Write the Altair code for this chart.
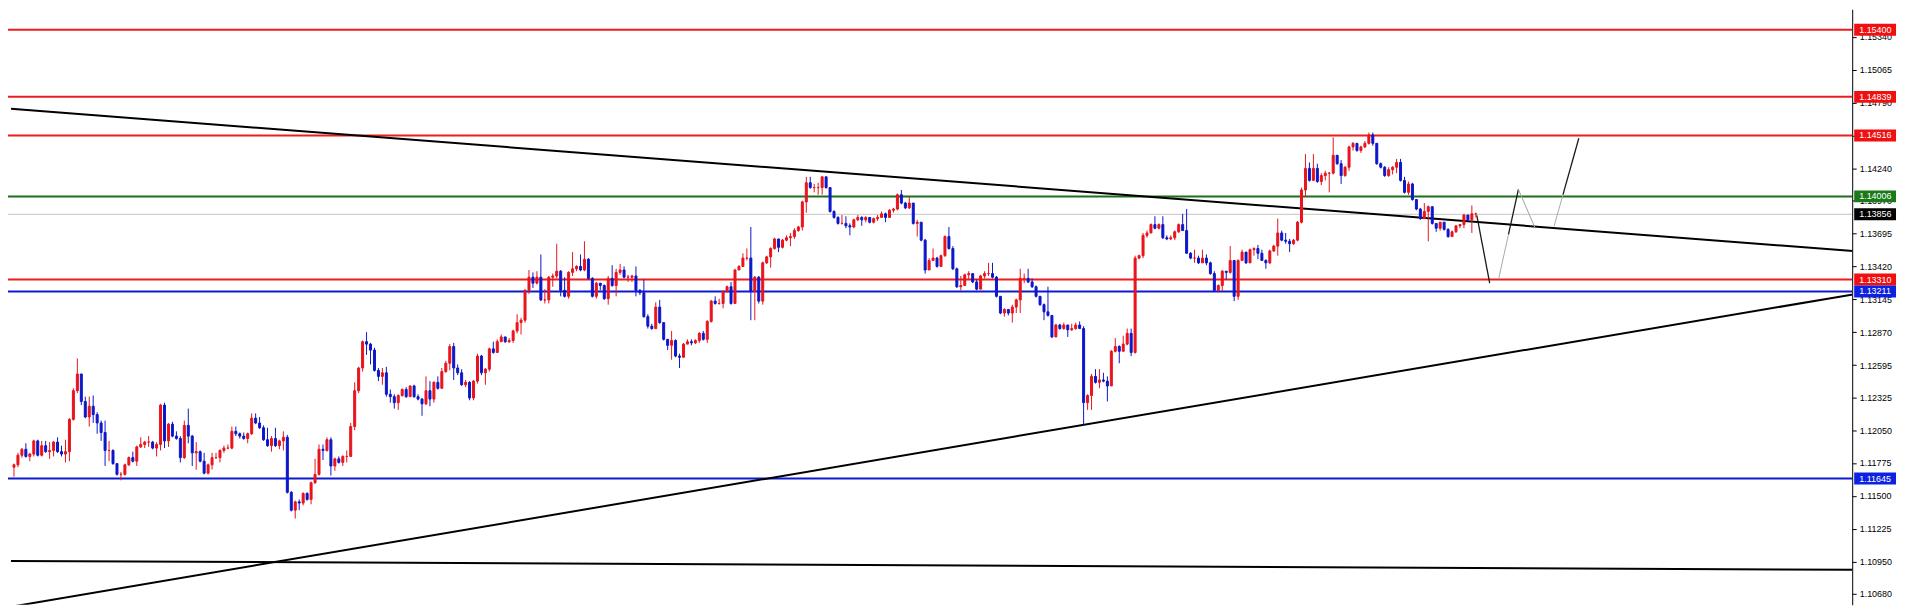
import altair as alt
import pandas as pd

# ---------------- data ----------------
first_open = 1.1174

closes = [
 1.1176,1.1184,1.1189,1.1183,1.1185,1.1196,1.1184,1.1192,1.1187,1.1188,
 1.1195,1.1187,1.1185,1.1187,1.1214,1.1238,1.1252,1.1229,1.1216,1.1225,
 1.1218,1.1211,1.1203,1.1188,1.1188,1.1177,1.1168,1.1168,1.1176,1.1182,
 1.1179,1.1191,1.1193,1.1195,1.1195,1.1190,1.1193,1.1226,1.1196,1.1210,
 1.1200,1.1198,1.1182,1.1209,1.1200,1.1186,1.1187,1.1179,1.1169,1.1176,
 1.1182,1.1182,1.1188,1.1190,1.1190,1.1204,1.1202,1.1200,1.1198,1.1202,
 1.1215,1.1211,1.1207,1.1197,1.1192,1.1198,1.1192,1.1196,1.1199,1.1153,
 1.1138,1.1145,1.1144,1.1152,1.1147,1.1161,1.1168,1.1189,1.1188,1.1197,
 1.1175,1.1181,1.1178,1.1183,1.1183,1.1208,1.1238,1.1257,1.1279,1.1277,
 1.1272,1.1255,1.1250,1.1253,1.1235,1.1233,1.1228,1.1234,1.1239,1.1233,
 1.1242,1.1233,1.1231,1.1227,1.1238,1.1231,1.1245,1.1240,1.1254,1.1261,
 1.1275,1.1257,1.1253,1.1243,1.1245,1.1232,1.1246,1.1267,1.1253,1.1256,
 1.1273,1.1270,1.1279,1.1283,1.1279,1.1280,1.1288,1.1295,1.1297,1.1322,
 1.1333,1.1328,1.1333,1.1314,1.1314,1.1333,1.1334,1.1338,1.1322,1.1317,
 1.1337,1.1340,1.1342,1.1339,1.1348,1.1332,1.1317,1.1328,1.1326,1.1315,
 1.1332,1.1326,1.1337,1.1339,1.1333,1.1333,1.1334,1.1322,1.1320,1.1300,
 1.1292,1.1290,1.1308,1.1295,1.1281,1.1276,1.1280,1.1267,1.1266,1.1277,
 1.1279,1.1278,1.1280,1.1286,1.1281,1.1296,1.1313,1.1311,1.1311,1.1321,
 1.1325,1.1311,1.1339,1.1342,1.1349,1.1349,1.1321,1.1333,1.1313,1.1345,
 1.1350,1.1357,1.1365,1.1358,1.1364,1.1366,1.1367,1.1372,1.1375,1.1396,
 1.1412,1.1408,1.1408,1.1408,1.1417,1.1408,1.1388,1.1383,1.1378,1.1378,
 1.1376,1.1375,1.1381,1.1383,1.1381,1.1383,1.1379,1.1382,1.1383,1.1386,
 1.1383,1.1389,1.1390,1.1402,1.1395,1.1391,1.1395,1.1378,1.1379,1.1364,
 1.1339,1.1347,1.1349,1.1342,1.1351,1.1367,1.1357,1.1340,1.1325,1.1326,
 1.1335,1.1336,1.1329,1.1323,1.1334,1.1336,1.1336,1.1333,1.1317,1.1303,
 1.1306,1.1303,1.1308,1.1314,1.1332,1.1332,1.1329,1.1325,1.1317,1.1310,
 1.1304,1.1301,1.1283,1.1293,1.1290,1.1293,1.1289,1.1290,1.1293,1.1290,
 1.1228,1.1234,1.1250,1.1245,1.1247,1.1246,1.1242,1.1271,1.1275,1.1271,
 1.1277,1.1286,1.1270,1.1349,1.1351,1.1368,1.1370,1.1377,1.1374,1.1377,
 1.1366,1.1365,1.1366,1.1371,1.1377,1.1372,1.1353,1.1349,1.1349,1.1345,
 1.1349,1.1345,1.1336,1.1322,1.1326,1.1338,1.1337,1.1347,1.1317,1.1347,
 1.1354,1.1345,1.1356,1.1357,1.1353,1.1347,1.1345,1.1355,1.1359,1.1370,
 1.1364,1.1363,1.1361,1.1364,1.1379,1.1406,1.1424,1.1414,1.1424,1.1413,
 1.1418,1.1420,1.1420,1.1435,1.1428,1.1418,1.1425,1.1442,1.1445,1.1439,
 1.1442,1.1445,1.1452,1.1445,1.1428,1.1425,1.1418,1.1423,1.1425,1.1429,
 1.1414,1.1404,1.1411,1.1398,1.1390,1.1382,1.1388,1.1392,1.1378,1.1374,
 1.1379,1.1373,1.1367,1.1371,1.1376,1.1377,1.1385,1.1381,1.1386,1.1386,
]

highs = [
 1.1177,1.1186,1.1190,1.1194,1.1186,1.1197,1.1197,1.1196,1.1196,1.1195,
 1.1196,1.1199,1.1192,1.1197,1.1215,1.1240,1.1265,1.1252,1.1233,1.1233,
 1.1234,1.1220,1.1213,1.1213,1.1196,1.1189,1.1177,1.1170,1.1177,1.1183,
 1.1187,1.1192,1.1199,1.1196,1.1200,1.1196,1.1195,1.1227,1.1228,1.1211,
 1.1212,1.1204,1.1200,1.1213,1.1223,1.1201,1.1195,1.1188,1.1186,1.1177,
 1.1186,1.1186,1.1189,1.1192,1.1193,1.1208,1.1208,1.1203,1.1203,1.1203,
 1.1219,1.1219,1.1216,1.1209,1.1207,1.1200,1.1207,1.1197,1.1204,1.1201,
 1.1154,1.1146,1.1147,1.1153,1.1153,1.1162,1.1181,1.1193,1.1193,1.1199,
 1.1199,1.1182,1.1183,1.1184,1.1188,1.1211,1.1245,1.1258,1.1280,1.1287,
 1.1278,1.1274,1.1257,1.1257,1.1258,1.1239,1.1235,1.1235,1.1240,1.1241,
 1.1242,1.1243,1.1235,1.1232,1.1250,1.1246,1.1246,1.1250,1.1257,1.1263,
 1.1277,1.1278,1.1260,1.1256,1.1247,1.1246,1.1247,1.1269,1.1268,1.1257,
 1.1274,1.1279,1.1281,1.1285,1.1283,1.1282,1.1289,1.1302,1.1299,1.1323,
 1.1339,1.1337,1.1338,1.1352,1.1323,1.1334,1.1336,1.1361,1.1339,1.1333,
 1.1338,1.1354,1.1343,1.1352,1.1363,1.1349,1.1333,1.1329,1.1328,1.1327,
 1.1334,1.1343,1.1340,1.1344,1.1342,1.1335,1.1335,1.1342,1.1323,1.1331,
 1.1302,1.1294,1.1312,1.1314,1.1295,1.1281,1.1288,1.1281,1.1269,1.1278,
 1.1281,1.1281,1.1281,1.1287,1.1288,1.1297,1.1314,1.1317,1.1315,1.1322,
 1.1326,1.1329,1.1340,1.1343,1.1353,1.1357,1.1375,1.1334,1.1334,1.1346,
 1.1351,1.1358,1.1366,1.1365,1.1365,1.1368,1.1370,1.1374,1.1376,1.1397,
 1.1417,1.1417,1.1411,1.1412,1.1417,1.1417,1.1408,1.1389,1.1384,1.1385,
 1.1384,1.1378,1.1382,1.1385,1.1384,1.1384,1.1383,1.1383,1.1385,1.1388,
 1.1387,1.1390,1.1391,1.1403,1.1406,1.1396,1.1400,1.1393,1.1381,1.1378,
 1.1365,1.1349,1.1357,1.1350,1.1352,1.1368,1.1375,1.1359,1.1341,1.1334,
 1.1336,1.1338,1.1336,1.1331,1.1335,1.1338,1.1345,1.1345,1.1334,1.1317,
 1.1307,1.1306,1.1310,1.1315,1.1340,1.1336,1.1340,1.1332,1.1326,1.1317,
 1.1311,1.1325,1.1301,1.1294,1.1294,1.1295,1.1293,1.1294,1.1295,1.1296,
 1.1292,1.1235,1.1252,1.1256,1.1256,1.1253,1.1250,1.1272,1.1282,1.1276,
 1.1284,1.1290,1.1290,1.1351,1.1352,1.1370,1.1372,1.1378,1.1384,1.1378,
 1.1384,1.1368,1.1368,1.1372,1.1378,1.1386,1.1390,1.1354,1.1356,1.1351,
 1.1356,1.1352,1.1346,1.1338,1.1327,1.1339,1.1338,1.1359,1.1347,1.1348,
 1.1356,1.1353,1.1357,1.1358,1.1360,1.1356,1.1348,1.1356,1.1360,1.1382,
 1.1372,1.1370,1.1365,1.1365,1.1380,1.1408,1.1436,1.1429,1.1436,1.1428,
 1.1420,1.1422,1.1421,1.1450,1.1435,1.1431,1.1426,1.1443,1.1446,1.1445,
 1.1443,1.1447,1.1454,1.1454,1.1445,1.1429,1.1426,1.1425,1.1426,1.1432,
 1.1432,1.1417,1.1413,1.1412,1.1398,1.1391,1.1395,1.1393,1.1392,1.1377,
 1.1379,1.1379,1.1374,1.1372,1.1376,1.1377,1.1386,1.1385,1.1393,1.1387,
]

lows = [
 1.1166,1.1174,1.1182,1.1182,1.1179,1.1183,1.1183,1.1183,1.1186,1.1181,
 1.1183,1.1186,1.1183,1.1178,1.1179,1.1213,1.1236,1.1226,1.1215,1.1208,
 1.1211,1.1202,1.1196,1.1175,1.1179,1.1176,1.1167,1.1163,1.1167,1.1175,
 1.1178,1.1175,1.1190,1.1190,1.1191,1.1189,1.1183,1.1188,1.1190,1.1191,
 1.1199,1.1197,1.1178,1.1181,1.1194,1.1175,1.1172,1.1178,1.1168,1.1168,
 1.1172,1.1181,1.1178,1.1186,1.1189,1.1189,1.1200,1.1198,1.1197,1.1194,
 1.1201,1.1210,1.1206,1.1196,1.1191,1.1187,1.1191,1.1189,1.1188,1.1152,
 1.1137,1.1131,1.1138,1.1142,1.1146,1.1143,1.1160,1.1167,1.1180,1.1187,
 1.1167,1.1171,1.1177,1.1175,1.1178,1.1183,1.1205,1.1236,1.1254,1.1268,
 1.1260,1.1254,1.1246,1.1243,1.1233,1.1228,1.1223,1.1222,1.1233,1.1232,
 1.1233,1.1232,1.1230,1.1217,1.1226,1.1225,1.1228,1.1239,1.1240,1.1253,
 1.1255,1.1247,1.1251,1.1242,1.1241,1.1230,1.1230,1.1244,1.1251,1.1243,
 1.1254,1.1269,1.1270,1.1279,1.1278,1.1278,1.1278,1.1286,1.1285,1.1295,
 1.1319,1.1324,1.1327,1.1313,1.1311,1.1311,1.1325,1.1332,1.1317,1.1316,
 1.1315,1.1334,1.1338,1.1338,1.1338,1.1331,1.1316,1.1315,1.1322,1.1314,
 1.1310,1.1325,1.1317,1.1335,1.1332,1.1329,1.1329,1.1317,1.1318,1.1299,
 1.1290,1.1289,1.1290,1.1294,1.1280,1.1272,1.1264,1.1266,1.1257,1.1266,
 1.1277,1.1276,1.1277,1.1278,1.1280,1.1278,1.1295,1.1310,1.1310,1.1307,
 1.1320,1.1310,1.1311,1.1339,1.1342,1.1347,1.1297,1.1297,1.1311,1.1310,
 1.1344,1.1341,1.1356,1.1354,1.1357,1.1363,1.1359,1.1365,1.1371,1.1372,
 1.1387,1.1407,1.1404,1.1402,1.1402,1.1407,1.1387,1.1382,1.1377,1.1377,
 1.1374,1.1368,1.1374,1.1380,1.1376,1.1379,1.1378,1.1378,1.1380,1.1383,
 1.1379,1.1383,1.1387,1.1389,1.1394,1.1390,1.1390,1.1377,1.1367,1.1363,
 1.1336,1.1339,1.1347,1.1341,1.1343,1.1350,1.1356,1.1339,1.1324,1.1322,
 1.1326,1.1331,1.1328,1.1322,1.1323,1.1332,1.1334,1.1332,1.1316,1.1302,
 1.1300,1.1301,1.1295,1.1303,1.1303,1.1328,1.1328,1.1324,1.1316,1.1309,
 1.1297,1.1300,1.1282,1.1283,1.1289,1.1289,1.1283,1.1288,1.1289,1.1290,
 1.1209,1.1222,1.1222,1.1244,1.1240,1.1245,1.1229,1.1242,1.1270,1.1261,
 1.1271,1.1276,1.1267,1.1269,1.1348,1.1349,1.1366,1.1370,1.1373,1.1373,
 1.1365,1.1364,1.1364,1.1364,1.1370,1.1372,1.1353,1.1348,1.1345,1.1344,
 1.1345,1.1343,1.1335,1.1321,1.1321,1.1321,1.1331,1.1336,1.1313,1.1314,
 1.1347,1.1344,1.1345,1.1351,1.1348,1.1347,1.1340,1.1344,1.1354,1.1351,
 1.1363,1.1361,1.1354,1.1360,1.1363,1.1378,1.1400,1.1413,1.1414,1.1412,
 1.1410,1.1414,1.1404,1.1419,1.1427,1.1411,1.1417,1.1422,1.1439,1.1438,
 1.1437,1.1441,1.1444,1.1443,1.1427,1.1424,1.1417,1.1417,1.1419,1.1420,
 1.1413,1.1403,1.1402,1.1397,1.1389,1.1381,1.1382,1.1363,1.1377,1.1371,
 1.1372,1.1372,1.1366,1.1367,1.1370,1.1374,1.1374,1.1380,1.1370,1.1383,
]

# horizontal price levels and their right-hand labels
level_prices = [1.15400, 1.14839, 1.14516, 1.14006, 1.13856, 1.13310, 1.13211, 1.11645]
level_colors = ["#ee1c1c", "#ee1c1c", "#ee1c1c", "#1c6e1c", "#c4c4c4", "#ee1c1c", "#0c1ad0", "#0c1ad0"]
level_widths = [2, 2, 2, 2, 1, 2, 2, 2]
box_colors = ["#f01010", "#f01010", "#f01010", "#1a7a1a", "#000000", "#f01010", "#0c22e0", "#0c22e0"]

# right axis tick values
tick_values = [1.15615, 1.15340, 1.15065, 1.14790, 1.14515, 1.14240, 1.13970, 1.13695,
               1.13420, 1.13145, 1.12870, 1.12595, 1.12325, 1.12050, 1.11775, 1.11500,
               1.11225, 1.10950, 1.10680]

# trend lines (bar index, price) -> (bar index, price)
trend_i1 = [-0.75, -0.75, -0.75]
trend_p1 = [1.14739, 1.10572, 1.10956]
trend_i2 = [464.75, 464.75, 464.75]
trend_p2 = [1.13547, 1.13189, 1.10881]

# hand-drawn forecast path segments
fc_i1 = [369.25, 374.75, 377.25, 379.75, 388.75, 391.0]
fc_p1 = [1.13847, 1.13314, 1.13689, 1.14064, 1.13756, 1.14021]
fc_i2 = [372.5, 377.25, 379.75, 384.0, 391.0, 395.0]
fc_p2 = [1.13281, 1.13689, 1.14064, 1.13739, 1.14021, 1.14493]
fc_colors = ["#1a1a1a", "#a8a8a8", "#1a1a1a", "#a0a0a0", "#a8a8a8", "#1a1a1a"]
fc_widths = [1.3, 1.0, 1.3, 1.0, 1.0, 1.3]

# ---------------- build tables ----------------
n = min(len(closes), len(highs), len(lows))
opens = [first_open] + closes[: n - 1]
candles = pd.DataFrame({
    "i": list(range(n)),
    "open": opens,
    "close": closes[:n],
    "high": highs[:n],
    "low": lows[:n],
})
candles["dir"] = ["up" if c >= o else "down" for o, c in zip(candles["open"], candles["close"])]

levels = pd.DataFrame({
    "price": level_prices,
    "col": level_colors,
    "w": level_widths,
    "box": box_colors,
    "label": [f"{p:.5f}" for p in level_prices],
})
trends = pd.DataFrame({"i1": trend_i1, "p1": trend_p1, "i2": trend_i2, "p2": trend_p2})
fc = pd.DataFrame({"i1": fc_i1, "p1": fc_p1, "i2": fc_i2, "p2": fc_p2,
                   "col": fc_colors, "w": fc_widths})

W, H = 1852, 598
FONT = "Liberation Sans"

x_scale = alt.Scale(domain=[-0.25, 462.75], nice=False, zero=False)
y_scale = alt.Scale(domain=[1.10589, 1.15572], nice=False, zero=False)
y_axis = alt.Axis(orient="right", values=tick_values, format=".5f", title=None,
                  grid=False, tickSize=4, tickColor="#000", domainColor="#000",
                  labelColor="#000", labelFont=FONT, labelFontSize=9, labelPadding=3)
col_scale = alt.Scale(domain=["up", "down"], range=["#e8141c", "#0c17c9"])

X = lambda f: alt.X(f, type="quantitative", scale=x_scale, axis=None)
Y = lambda f: alt.Y(f, type="quantitative", scale=y_scale, axis=y_axis)

levels_layer = alt.Chart(levels).mark_rule(clip=True).encode(
    y=Y("price"),
    color=alt.Color("col:N", scale=None),
    strokeWidth=alt.StrokeWidth("w:Q", scale=None),
)

trend_layer = alt.Chart(trends).mark_rule(clip=True, color="#000", strokeWidth=2).encode(
    x=X("i1"), x2="i2", y=Y("p1"), y2="p2",
)

wicks = alt.Chart(candles).mark_rule(strokeWidth=1, clip=True).encode(
    x=X("i"), y=Y("low"), y2="high",
    color=alt.Color("dir:N", scale=col_scale, legend=None),
)

bodies = alt.Chart(candles).mark_bar(width=2, strokeWidth=1, clip=True).encode(
    x=X("i"), y=Y("open"), y2="close",
    color=alt.Color("dir:N", scale=col_scale, legend=None),
    stroke=alt.Stroke("dir:N", scale=col_scale, legend=None),
)

fc_layer = alt.Chart(fc).mark_rule(clip=True).encode(
    x=X("i1"), x2="i2", y=Y("p1"), y2="p2",
    color=alt.Color("col:N", scale=None),
    strokeWidth=alt.StrokeWidth("w:Q", scale=None),
)

boxes = alt.Chart(levels).mark_rect(yOffset=-6, y2Offset=6).encode(
    x=alt.value(W + 2), x2=alt.value(W + 44),
    y=Y("price"), y2="price",
    color=alt.Color("box:N", scale=None),
)

box_text = alt.Chart(levels).mark_text(align="left", baseline="middle", font=FONT,
                                        fontSize=9, color="#ffffff").encode(
    x=alt.value(W + 7), y=Y("price"), text="label:N",
)

chart = alt.layer(levels_layer, trend_layer, wicks, bodies, fc_layer, boxes, box_text).properties(
    width=W, height=H,
    autosize=alt.AutoSizeParams(type="none"),
    padding={"left": 0, "top": 0, "right": 48, "bottom": 0},
    background="#ffffff",
).configure_view(stroke=None)

chart.save("out.html", embed_options={"renderer": "svg", "actions": False})
